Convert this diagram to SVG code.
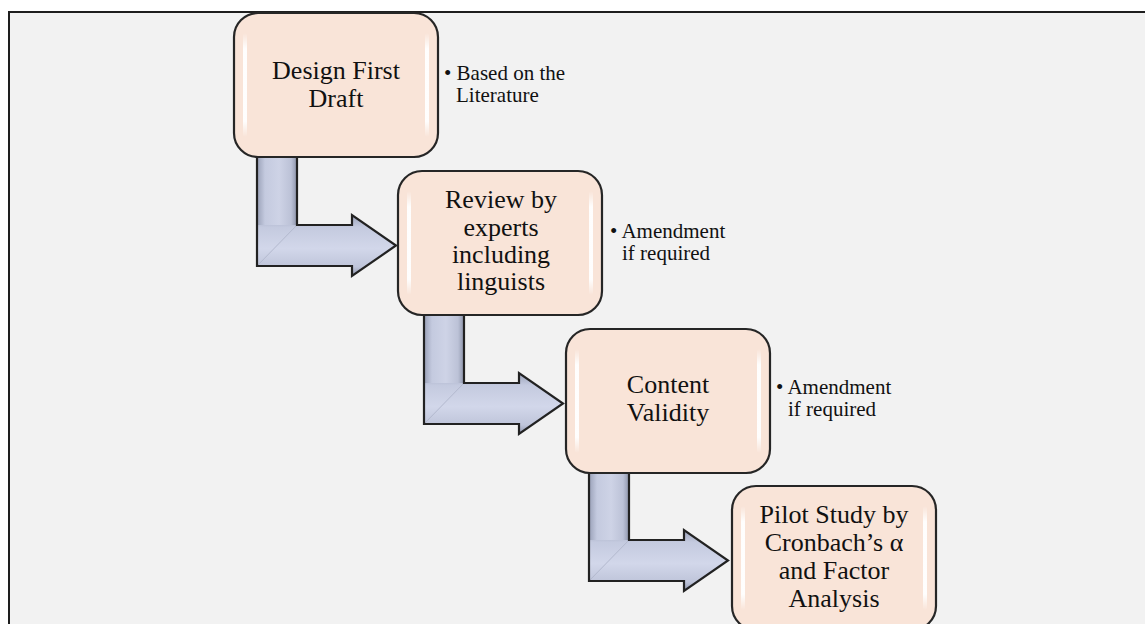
<svg xmlns="http://www.w3.org/2000/svg" width="1145" height="624" viewBox="0 0 1145 624">
<defs>
<linearGradient id="arrH" x1="0" y1="0" x2="0" y2="1">
<stop offset="0" stop-color="#9aa1b8"/>
<stop offset="0.2" stop-color="#c4cadf"/>
<stop offset="0.55" stop-color="#d2d7ea"/>
<stop offset="0.85" stop-color="#bfc5da"/>
<stop offset="1" stop-color="#8e95ab"/>
</linearGradient>
<linearGradient id="arrV" x1="0" y1="0" x2="1" y2="0">
<stop offset="0" stop-color="#9aa1b8"/>
<stop offset="0.2" stop-color="#c4cadf"/>
<stop offset="0.55" stop-color="#ced3e6"/>
<stop offset="0.85" stop-color="#bcc2d7"/>
<stop offset="1" stop-color="#8e95ab"/>
</linearGradient>
<linearGradient id="gloss" x1="0" y1="0" x2="0" y2="1">
<stop offset="0" stop-color="#ffffff" stop-opacity="0"/>
<stop offset="0.15" stop-color="#ffffff" stop-opacity="0.95"/>
<stop offset="0.85" stop-color="#ffffff" stop-opacity="0.95"/>
<stop offset="1" stop-color="#ffffff" stop-opacity="0"/>
</linearGradient>
<g id="boxShape">
<rect x="0" y="0" width="204" height="144" rx="24" ry="24" fill="#f9e4d8" stroke="#262626" stroke-width="2.2"/>
<rect x="9" y="20" width="4" height="104" rx="2" fill="url(#gloss)"/>
<rect x="191" y="20" width="4" height="104" rx="2" fill="url(#gloss)"/>
</g>
<g id="arrowShape">
<path d="M257,150 L297,150 L297,266 L257,266 Z" fill="url(#arrV)"/>
<path d="M257,225 L352,225 L352,215 L396,245.5 L352,276 L352,266 L257,266 Z" fill="url(#arrH)"/>
<path d="M257,266 L297,225" stroke="#b3b9ce" stroke-width="1" fill="none"/>
<path d="M257,150 L297,150 L297,225 L352,225 L352,215 L396,245.5 L352,276 L352,266 L257,266 Z" fill="none" stroke="#222" stroke-width="2.2" stroke-linejoin="miter"/>
</g>
</defs>
<style>
.main{font-family:"Liberation Serif","Times New Roman",serif;font-size:26px;fill:#111;text-anchor:middle}
.note{font-family:"Liberation Serif","Times New Roman",serif;font-size:21px;fill:#111}
</style>
<rect x="0" y="0" width="1145" height="624" fill="#ffffff"/>
<rect x="9" y="12" width="1160" height="640" fill="#f2f2f2" stroke="#1e1e1e" stroke-width="2"/>
<g id="connectors">
<use href="#arrowShape"/>
<use href="#arrowShape" transform="translate(167,158)"/>
<use href="#arrowShape" transform="translate(332,315)"/>
</g>
<g id="node1">
<use href="#boxShape" transform="translate(234,13)"/>
<text class="main" x="336" y="79">Design First</text>
<text class="main" x="336" y="107">Draft</text>
<text class="note" x="444" y="80">• Based on the</text>
<text class="note" x="456" y="102">Literature</text>
</g>
<g id="node2">
<use href="#boxShape" transform="translate(398,171)"/>
<text class="main" x="501" y="208">Review by</text>
<text class="main" x="501" y="236">experts</text>
<text class="main" x="501" y="263">including</text>
<text class="main" x="501" y="290">linguists</text>
<text class="note" x="610" y="238">• Amendment</text>
<text class="note" x="622" y="260">if required</text>
</g>
<g id="node3">
<use href="#boxShape" transform="translate(566,329)"/>
<text class="main" x="668" y="393">Content</text>
<text class="main" x="668" y="421">Validity</text>
<text class="note" x="776" y="394">• Amendment</text>
<text class="note" x="788" y="416">if required</text>
</g>
<g id="node4">
<use href="#boxShape" transform="translate(732,486)"/>
<text class="main" x="834" y="523">Pilot Study by</text>
<text class="main" x="834" y="551">Cronbach’s α</text>
<text class="main" x="834" y="579">and Factor</text>
<text class="main" x="834" y="607">Analysis</text>
</g>
</svg>
